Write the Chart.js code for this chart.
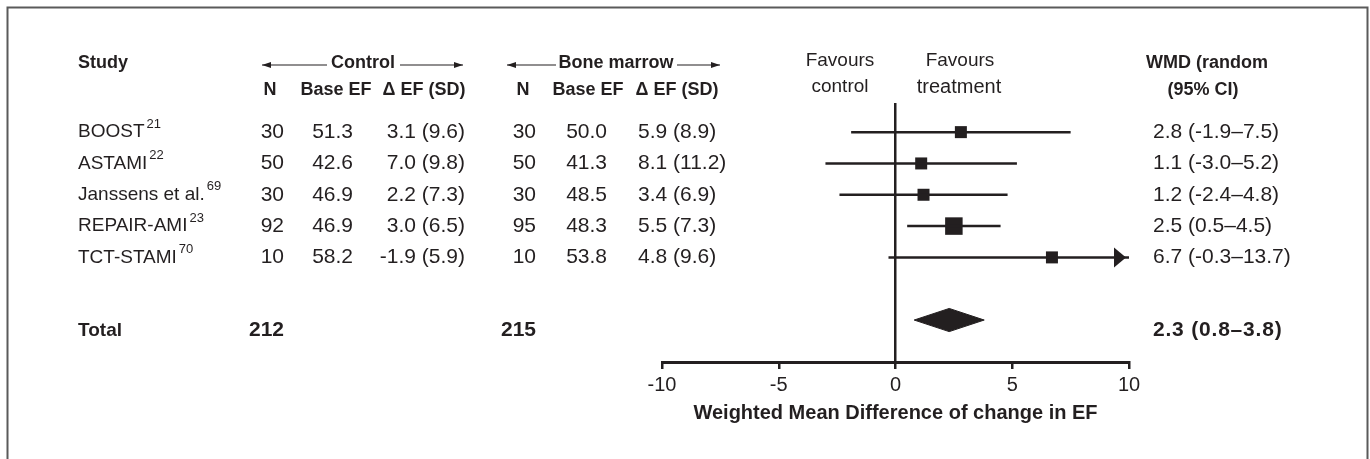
<!DOCTYPE html>
<html>
<head>
<meta charset="utf-8">
<script src="https://cdn.jsdelivr.net/npm/chart.js@4.4.1/dist/chart.umd.min.js"></script>
<style>
  html, body { margin: 0; padding: 0; background: #ffffff; }
  #wrap { width: 1370px; height: 459px; position: relative; }
</style>
</head>
<body>
<div id="wrap"><canvas id="c" width="1370" height="459"></canvas></div>
<script>
// ---------------- DATA ----------------
const studies   = ['BOOST', 'ASTAMI', 'Janssens et al.', 'REPAIR-AMI', 'TCT-STAMI'];
const refs      = ['21', '22', '69', '23', '70'];
const ctrlN     = [30, 50, 30, 92, 10];
const ctrlBase  = ['51.3', '42.6', '46.9', '46.9', '58.2'];
const ctrlDelta = ['3.1 (9.6)', '7.0 (9.8)', '2.2 (7.3)', '3.0 (6.5)', '-1.9 (5.9)'];
const bmN       = [30, 50, 30, 95, 10];
const bmBase    = ['50.0', '41.3', '48.5', '48.3', '53.8'];
const bmDelta   = ['5.9 (8.9)', '8.1 (11.2)', '3.4 (6.9)', '5.5 (7.3)', '4.8 (9.6)'];
const wmd       = [2.8, 1.1, 1.2, 2.5, 6.7];
const ciLow     = [-1.9, -3.0, -2.4, 0.5, -0.3];
const ciHigh    = [7.5, 5.2, 4.8, 4.5, 13.7];
const totalCtrlN = 212;
const totalBmN   = 215;
const totalWmd   = 2.3;
const totalLow   = 0.8;
const totalHigh  = 3.8;
const xTicks     = [-10, -5, 0, 5, 10];
const xTitle     = 'Weighted Mean Difference of change in EF';

// ---------------- STYLE / LAYOUT ----------------
const ink = '#231f20';
const fam = '"Liberation Sans", Arial, Helvetica, sans-serif';
const markerSide = [12, 12, 12, 17.5, 12];   // square side in px (study weight)
const rowY = [0, 1, 2, 3, 4];                 // row slots on the hidden y scale
const diamondY = 6.0;
const totalTextY = 6.33;
const diamondHalf = 0.37;
const xMin = -10, xMax = 10;

const fmt = v => v.toFixed(1);
const ciText = i => `${fmt(wmd[i])} (${fmt(ciLow[i])}–${fmt(ciHigh[i])})`;

// ---------------- DATASETS ----------------
const datasets = [];
studies.forEach((s, i) => {
  datasets.push({
    type: 'line',
    data: [{x: ciLow[i], y: rowY[i]}, {x: Math.min(ciHigh[i], xMax), y: rowY[i]}],
    borderColor: ink, borderWidth: 2.5, pointRadius: 0, fill: false, tension: 0
  });
});
datasets.push({
  type: 'scatter',
  data: wmd.map((v, i) => ({x: v, y: rowY[i]})),
  pointStyle: 'rect',
  pointRadius: markerSide.map(s => s / Math.SQRT2),
  backgroundColor: ink, borderWidth: 0
});
datasets.push({
  type: 'line',
  data: [
    {x: totalLow, y: diamondY},
    {x: totalWmd, y: diamondY - diamondHalf},
    {x: totalHigh, y: diamondY},
    {x: totalWmd, y: diamondY + diamondHalf},
    {x: totalLow, y: diamondY}
  ],
  borderColor: ink, backgroundColor: ink, borderWidth: 1,
  pointRadius: 0, fill: 'shape', tension: 0
});

// ---------------- TEXT PLUGIN ----------------
const tablePlugin = {
  id: 'table',
  beforeDraw(chart) {
    const ctx = chart.ctx;
    ctx.save();
    ctx.strokeStyle = '#5a5a5a';
    ctx.lineWidth = 2;
    ctx.beginPath();
    ctx.moveTo(7.5, 459); ctx.lineTo(7.5, 7.5); ctx.lineTo(1367.5, 7.5); ctx.lineTo(1367.5, 459);
    ctx.stroke();
    ctx.restore();
  },
  afterDatasetsDraw(chart) {
    const ctx = chart.ctx;
    const xs = chart.scales.x, ys = chart.scales.y;
    ctx.save();
    ctx.fillStyle = ink;
    studies.forEach((s, i) => {
      if (ciHigh[i] > xMax) {
        const tip = xs.getPixelForValue(xMax) - 3;
        const y = ys.getPixelForValue(rowY[i]);
        ctx.beginPath();
        ctx.moveTo(tip, y);
        ctx.lineTo(tip - 12, y - 10);
        ctx.lineTo(tip - 12, y + 10);
        ctx.closePath();
        ctx.fill();
      }
    });
    ctx.restore();
  },
  afterDraw(chart) {
    const ctx = chart.ctx;
    const ys = chart.scales.y;
    ctx.save();
    ctx.fillStyle = ink;
    ctx.strokeStyle = ink;
    ctx.textBaseline = 'middle';
    const bold = sz => `bold ${sz}px ${fam}`;
    const norm = sz => `${sz}px ${fam}`;
    const txt = (t, x, y, align, font, ls) => {
      ctx.font = font; ctx.textAlign = align;
      ctx.letterSpacing = ls || '0px';
      ctx.fillText(t, x, y);
      ctx.letterSpacing = '0px';
    };

    const h1 = 63, h2 = 90;
    txt('Study', 78, h1, 'left', bold(18));
    txt('Control', 363, h1, 'center', bold(18));
    txt('Bone marrow', 616, h1, 'center', bold(18));
    txt('WMD (random', 1146, h1, 'left', bold(18));
    txt('Favours', 840, 61, 'center', norm(19));
    txt('control', 840, 87, 'center', norm(19));
    txt('Favours', 960, 61, 'center', norm(19));
    txt('treatment', 959, 87, 'center', norm(20));

    const arrow = (x1, x2, y) => {
      ctx.lineWidth = 1.2;
      ctx.beginPath(); ctx.moveTo(x1, y); ctx.lineTo(x2, y); ctx.stroke();
      const dir = Math.sign(x2 - x1);
      ctx.beginPath();
      ctx.moveTo(x2, y); ctx.lineTo(x2 - dir * 9, y - 3); ctx.lineTo(x2 - dir * 9, y + 3); ctx.closePath();
      ctx.fill();
    };
    arrow(327, 262, 65); arrow(400, 463, 65);
    arrow(556, 507, 65); arrow(677, 720, 65);

    txt('N', 270, h2, 'center', bold(18));
    txt('Base EF', 336, h2, 'center', bold(18));
    txt('\u0394 EF (SD)', 424, h2, 'center', bold(18));
    txt('N', 523, h2, 'center', bold(18));
    txt('Base EF', 588, h2, 'center', bold(18));
    txt('\u0394 EF (SD)', 677, h2, 'center', bold(18));
    txt('(95% CI)', 1203, h2, 'center', bold(18));

    studies.forEach((s, i) => {
      const y = ys.getPixelForValue(rowY[i]);
      ctx.font = norm(19);
      ctx.textAlign = 'left';
      ctx.fillText(s, 78, y);
      const w = ctx.measureText(s).width;
      txt(refs[i], 78 + w + 2, y - 8, 'left', norm(13));
      txt(String(ctrlN[i]), 284, y, 'right', norm(21));
      txt(ctrlBase[i], 353, y, 'right', norm(21));
      txt(ctrlDelta[i], 465, y, 'right', norm(21));
      txt(String(bmN[i]), 536, y, 'right', norm(21));
      txt(bmBase[i], 607, y, 'right', norm(21));
      txt(bmDelta[i], 638, y, 'left', norm(21));
      txt(ciText(i), 1153, y, 'left', norm(21));
    });

    const ty = ys.getPixelForValue(totalTextY);
    txt('Total', 78, ty, 'left', bold(19));
    txt(String(totalCtrlN), 284, ty, 'right', bold(21));
    txt(String(totalBmN), 536, ty, 'right', bold(21));
    txt(`${fmt(totalWmd)} (${fmt(totalLow)}–${fmt(totalHigh)})`, 1153, ty, 'left', bold(21), '0.8px');
    ctx.restore();
  }
};

// ---------------- CHART ----------------
new Chart(document.getElementById('c'), {
  type: 'scatter',
  data: { datasets },
  options: {
    responsive: false,
    animation: false,
    events: [],
    layout: { padding: { left: 662, right: 241, top: 103, bottom: 30 } },
    plugins: { legend: { display: false }, tooltip: { enabled: false } },
    scales: {
      x: {
        type: 'linear', min: xMin, max: xMax,
        afterBuildTicks: axis => { axis.ticks = xTicks.map(v => ({ value: v })); },
        grid: {
          drawOnChartArea: true,
          color: c => (c.tick && c.tick.value === 0) ? ink : 'rgba(0,0,0,0)',
          lineWidth: 2.5,
          tickColor: ink, tickLength: 7, tickWidth: 2.5
        },
        border: { display: true, color: ink, width: 3 },
        ticks: { color: ink, font: { size: 20, family: fam }, padding: 4, maxRotation: 0, autoSkip: false },
        title: { display: true, text: xTitle, color: ink, font: { size: 20, weight: 'bold', family: fam }, padding: { top: 0, bottom: 4 } }
      },
      y: {
        type: 'linear', display: false, reverse: true, min: -0.93, max: 7.34
      }
    }
  },
  plugins: [tablePlugin]
});
</script>
</body>
</html>
